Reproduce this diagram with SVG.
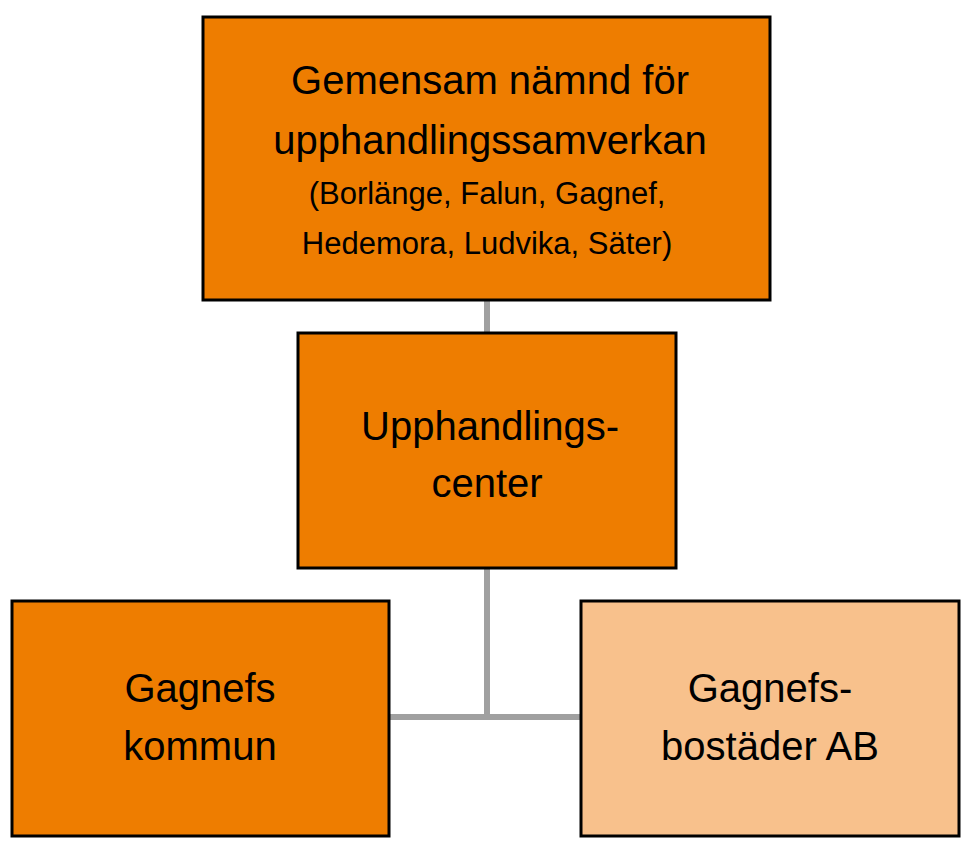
<svg xmlns="http://www.w3.org/2000/svg" width="975" height="850" viewBox="0 0 975 850">
<style>
.box{fill:#EE7D00;stroke:#000;stroke-width:3}
.light{fill:#F8C18C;stroke:#000;stroke-width:3}
.t{font-family:"Liberation Sans",Arial,sans-serif;font-size:40px;text-anchor:middle;fill:#000}
.s{font-family:"Liberation Sans",Arial,sans-serif;font-size:31px;text-anchor:middle;fill:#000}
.c{stroke:#A0A0A0;stroke-width:6;fill:none}
</style>
<rect width="975" height="850" fill="#fff"/>
<g id="connectors">
<line class="c" x1="487" y1="300" x2="487" y2="333"/>
<line class="c" x1="487" y1="568" x2="487" y2="717"/>
<line class="c" x1="389" y1="717" x2="581" y2="717"/>
</g>
<g id="top">
<rect class="box" x="203" y="17" width="567" height="283"/>
<text class="t" x="490" y="94">Gemensam nämnd för</text>
<text class="t" x="490" y="154">upphandlingssamverkan</text>
<text class="s" x="487" y="204">(Borlänge, Falun, Gagnef,</text>
<text class="s" x="487" y="254">Hedemora, Ludvika, Säter)</text>
</g>
<g id="center">
<rect class="box" x="298" y="333" width="378" height="235"/>
<text class="t" x="490" y="440">Upphandlings-</text>
<text class="t" x="487" y="497">center</text>
</g>
<g id="kommun">
<rect class="box" x="12" y="601" width="377" height="235"/>
<text class="t" x="200" y="702">Gagnefs</text>
<text class="t" x="200" y="760">kommun</text>
</g>
<g id="bostader">
<rect class="light" x="581" y="601" width="378" height="235"/>
<text class="t" x="770" y="702">Gagnefs-</text>
<text class="t" x="770" y="760">bostäder AB</text>
</g>
</svg>
